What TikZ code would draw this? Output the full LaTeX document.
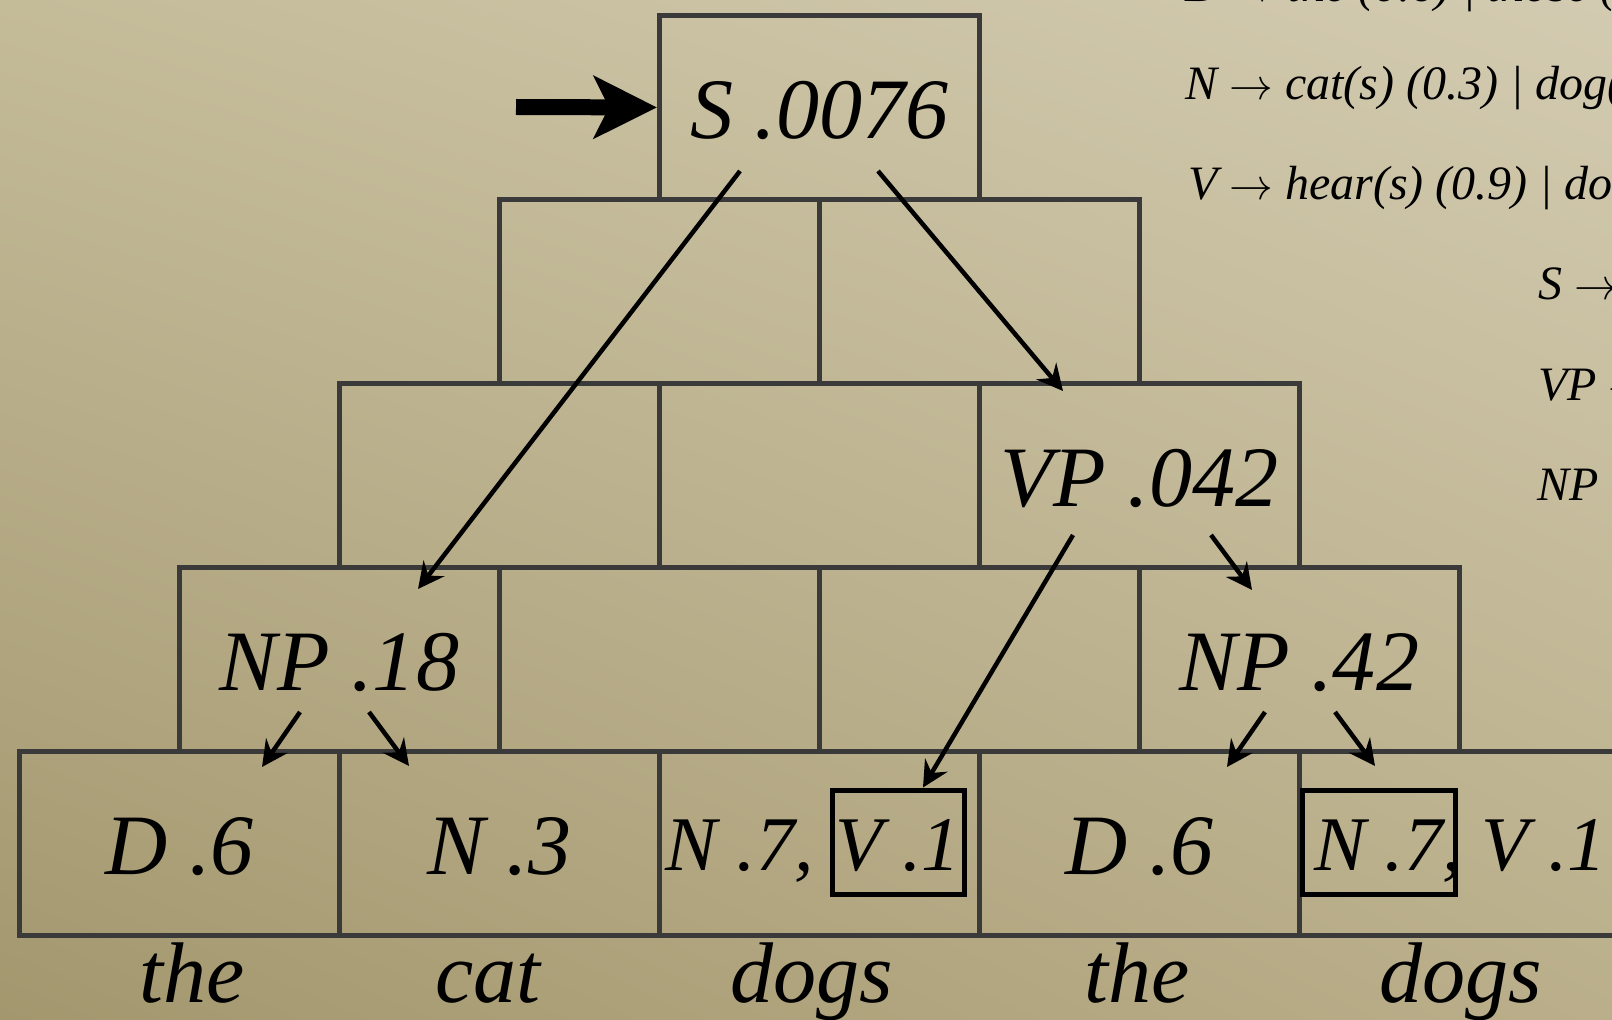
\documentclass[tikz,border=0pt]{standalone}
\usepackage{fontspec}
\setmainfont{Liberation Serif}
\usetikzlibrary{arrows.meta,shadings}
\definecolor{bgul}{RGB}{196,187,153}
\definecolor{bgur}{RGB}{211,203,177}
\definecolor{bgll}{RGB}{163,151,110}
\definecolor{bglr}{RGB}{186,175,138}
\definecolor{gridgray}{RGB}{58,58,58}

\begin{document}
\begin{tikzpicture}[
  x=0.02cm, y=-0.02cm,
  cell/.style={draw=gridgray, line width=0.1cm, minimum width=6.4cm, minimum height=3.68cm, inner sep=0pt, anchor=north west},
  lbl/.style={font=\fontsize{49}{59}\selectfont\itshape, text height=1.24cm, text depth=0pt, inner sep=0pt},
  slbl/.style={font=\fontsize{44}{53}\selectfont\itshape, text height=1.12cm, text depth=0pt, inner sep=0pt},
  hbox/.style={slbl, draw=black, line width=0.1cm, minimum height=2.1cm},
  word/.style={font=\fontsize{49}{59}\selectfont\itshape, inner sep=0pt, anchor=base},
  rule/.style={font=\fontsize{27.3}{33}\selectfont\itshape, inner sep=0pt, anchor=base west},
  arr/.style={-{Stealth[length=0.52cm, width=0.52cm, inset=0.18cm]}, line width=0.09cm},
  bigarr/.style={-{Stealth[length=1.26cm, width=1.24cm, inset=0.3cm]}, line width=0.32cm}
]
\useasboundingbox (0,0) rectangle (1612,1020);
\clip (0,0) rectangle (1612,1020);
\shade[upper left=bgul, upper right=bgur, lower left=bgll, lower right=bglr] (0,0) rectangle (1612,1020);

% chart cells
\foreach \r in {0,...,4}
  \foreach \c in {0,...,\r}
    \node[cell] (cell-\r-\c) at ({657-160*\r+320*\c}, {13+184*\r}) {};

% cell entries
\node[lbl] (s) at (cell-0-0) {S .0076};
\node[lbl] (vp) at (cell-2-2) {VP .042};
\node[lbl] (np1) at (cell-3-0) {NP .18};
\node[lbl] (np2) at (cell-3-3) {NP .42};
\node[lbl] (d1) at (cell-4-0) {D .6};
\node[lbl] (n1) at (cell-4-1) {N .3};
\node[hbox, minimum width=2.64cm] (v1) at (898,842.5) {V .1};
\node[slbl, anchor=base east] (n2) at ([xshift=-0.3cm]v1.base west) {N .7,};
\node[lbl] (d2) at (cell-4-3) {D .6};
\node[hbox, minimum width=3.06cm] (n3) at (1378.5,842.5) {N .7};
\node[slbl, anchor=base west] (v2) at ([xshift=1.28cm]n3.base) {, V .1};

% words
\node[word] (w1) at (192,1002) {the};
\node[word] (w2) at (488,1002) {cat};
\node[word] (w3) at (812,1002) {dogs};
\node[word] (w4) at (1137,1002) {the};
\node[word] (w5) at (1461,1002) {dogs};

% grammar
\node[rule] (rd) at (1185,2) {D $\rightarrow$ the (0.6) | those (0.4)};
\node[rule] (rn) at (1185,100) {N $\rightarrow$ cat(s) (0.3) | dog(s) (0.7)};
\node[rule] (rv) at (1188,200) {V $\rightarrow$ hear(s) (0.9) | dog(s) (0.1)};
\node[rule] (rs) at (1538,300) {S $\rightarrow$ NP VP (1.0)};
\node[rule] (rvp) at (1538,400) {VP $\rightarrow$ V NP (1.0)};
\node[rule] (rnp) at (1537,500) {NP $\rightarrow$ D N (1.0)};

% back-pointers
\coordinate (go) at (516,107);
\coordinate (s-l) at (740,171);
\coordinate (s-r) at (878,171);
\coordinate (np1-in) at (418,589);
\coordinate (vp-in) at (1063,391);
\coordinate (vp-l) at (1073,535);
\coordinate (vp-r) at (1211,535);
\coordinate (np2-in) at (1252,590);
\coordinate (np1-l) at (300,712);
\coordinate (np1-r) at (369,712);
\coordinate (d1-in) at (262,767);
\coordinate (n1-in) at (409,766);
\coordinate (np2-l) at (1265,712);
\coordinate (np2-r) at (1335,712);
\coordinate (d2-in) at (1227,767);
\coordinate (n3-in) at (1375,766);

\draw[bigarr] (go) -- (cell-0-0.west);
\draw[arr] (s-l) -- (np1-in);
\draw[arr] (s-r) -- (vp-in);
\draw[arr] (vp-l) -- ([xshift=0.5cm]v1.north);
\draw[arr] (vp-r) -- (np2-in);
\draw[arr] (np1-l) -- (d1-in);
\draw[arr] (np1-r) -- (n1-in);
\draw[arr] (np2-l) -- (d2-in);
\draw[arr] (np2-r) -- (n3-in);
\end{tikzpicture}
\end{document}
